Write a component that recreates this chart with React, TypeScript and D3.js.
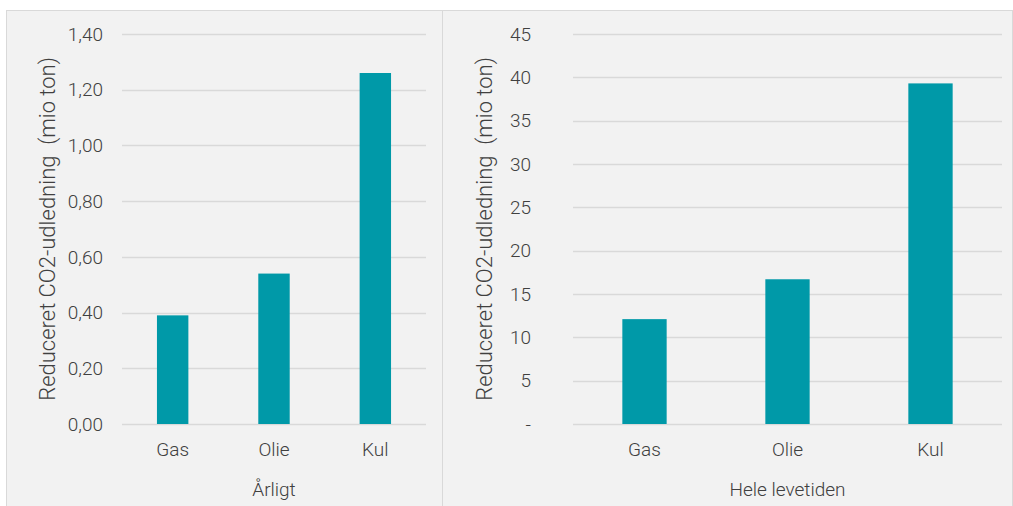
import React from "react";
import * as d3 from "d3";

const categories = ["Gas", "Olie", "Kul"];
const annualValues = [0.39, 0.54, 1.26];
const lifetimeValues = [12.1, 16.7, 39.3];
const annualTicks = [0, 0.2, 0.4, 0.6, 0.8, 1.0, 1.2, 1.4];
const lifetimeTicks = [0, 5, 10, 15, 20, 25, 30, 35, 40, 45];
const yTitle = "Reduceret CO2-udledning\u00a0\u00a0(mio ton)";

const W = 1013;
const H = 506;
const FONT = "Roboto, 'Noto Sans', sans-serif";
const TEXT = "#404040";
const BAR = "#0099a8";
const GRID = "#d9d9d9";
const LABEL_SIZE = 19;
const TITLE_SIZE = 22;

type PanelProps = {
  x0: number;
  x1: number;
  plotLeft: number;
  plotRight: number;
  tickX: number;
  titleX: number;
  values: number[];
  ticks: number[];
  max: number;
  fmt: (v: number) => string;
  xTitle: string;
};

function Panel(p: PanelProps) {
  const top = 34;
  const bottom = 424;
  const x = d3.scaleBand<string>().domain(categories).range([p.plotLeft, p.plotRight]).paddingInner(0.69).paddingOuter(0.345);
  const y = d3.scaleLinear().domain([0, p.max]).range([bottom, top]);
  const mid = (p.plotLeft + p.plotRight) / 2;
  return (
    <g>
      <rect x={p.x0 + 0.5} y={10.5} width={p.x1 - p.x0} height={H} fill="#f2f2f2" stroke={GRID} strokeWidth={1} />
      {p.ticks.map((t) => (
        <g key={t}>
          <line x1={p.plotLeft} x2={p.plotRight} y1={Math.round(y(t)) + 0.5} y2={Math.round(y(t)) + 0.5} stroke={GRID} strokeWidth={1.3} />
          <text x={p.tickX} y={y(t)} dy="0.35em" textAnchor="end" fontSize={LABEL_SIZE} fill={TEXT} fontWeight={300}>
            {p.fmt(t)}
          </text>
        </g>
      ))}
      {categories.map((c, i) => (
        <g key={c}>
          <rect x={x(c)} y={y(p.values[i])} width={x.bandwidth()} height={y(0) - y(p.values[i])} fill={BAR} />
          <text x={(x(c) as number) + x.bandwidth() / 2} y={449} dy="0.35em" textAnchor="middle" fontSize={LABEL_SIZE} fill={TEXT} fontWeight={300}>
            {c}
          </text>
        </g>
      ))}
      <text x={mid} y={489} dy="0.35em" textAnchor="middle" fontSize={LABEL_SIZE} fill={TEXT} fontWeight={300}>
        {p.xTitle}
      </text>
      <text transform={`translate(${p.titleX},${(top + bottom) / 2}) rotate(-90)`} dy="0.35em" textAnchor="middle" fontSize={TITLE_SIZE} fill={TEXT} fontWeight={300}>
        {yTitle}
      </text>
    </g>
  );
}

const commaFmt = (v: number) => d3.format(".2f")(v).replace(".", ",");
const dashFmt = (v: number) => (v === 0 ? "-" : String(v));

export default function App() {
  return (
    <svg width={W} height={H} style={{ position: "absolute", left: 0, top: 0, fontFamily: FONT }}>
      <rect width={W} height={H} fill="#ffffff" />
      <Panel x0={6} x1={442} plotLeft={122} plotRight={426} tickX={103} titleX={47} values={annualValues} ticks={annualTicks} max={1.4} fmt={commaFmt} xTitle="Årligt" />
      <Panel x0={442} x1={1012} plotLeft={573} plotRight={1002} tickX={531} titleX={484} values={lifetimeValues} ticks={lifetimeTicks} max={45} fmt={dashFmt} xTitle="Hele levetiden" />
    </svg>
  );
}
